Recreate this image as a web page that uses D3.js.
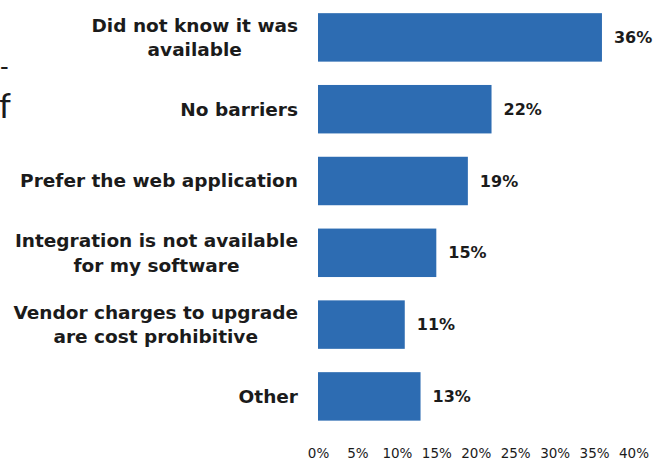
<!DOCTYPE html>
<html>
<head>
<meta charset="utf-8">
<script src="https://cdn.jsdelivr.net/npm/d3@7"></script>
<style>
  html, body { margin: 0; padding: 0; background: #fff; }
  svg { display: block; }
  text { font-family: "DejaVu Sans", sans-serif; fill: #1b1b1b; }
</style>
</head>
<body>
<svg id="chart" width="656" height="462"></svg>
<script>
// Survey responses: barriers to using the integration
const categories = [
  ["Did not know it was", "available"],
  ["No barriers"],
  ["Prefer the web application"],
  ["Integration is not available", "for my software"],
  ["Vendor charges to upgrade", "are cost prohibitive"],
  ["Other"]
];
const values = [36, 22, 19, 15, 11, 13];
const tickValues = [0, 5, 10, 15, 20, 25, 30, 35, 40];

const svg = d3.select("#chart");
const keys = categories.map((c, i) => "c" + i);

const x = d3.scaleLinear().domain([0, 40]).range([318, 633.5]);
const y = d3.scaleBand().domain(keys).range([1.5, 432.3])
  .paddingInner(0.325).paddingOuter(0.1625);

// fragments of neighbouring page text at the left edge
svg.append("text").attr("x", 0).attr("y", 75)
  .style("font-size", "24px").text("-");
svg.append("text").attr("x", -1).attr("y", 118)
  .style("font-family", "Lato, sans-serif")
  .style("font-size", "34px").text("f");

// bars
svg.append("g").selectAll("rect").data(values).join("rect")
  .attr("x", x(0))
  .attr("y", (d, i) => y(keys[i]))
  .attr("width", d => x(d) - x(0))
  .attr("height", y.bandwidth())
  .attr("fill", "#2d6cb2");

// value labels
svg.append("g").selectAll("text").data(values).join("text")
  .attr("x", d => x(d) + 12)
  .attr("y", (d, i) => y(keys[i]) + y.bandwidth() / 2)
  .attr("dy", "0.35em")
  .style("font-size", "16px").style("font-weight", "bold")
  .text(d => d + "%");

// category labels, right-aligned, centred on each bar
const lineGap = 24.5;
const lab = svg.append("g").selectAll("text").data(categories).join("text")
  .attr("text-anchor", "end")
  .style("font-size", "18.5px").style("font-weight", "bold");
lab.each(function(lines, i) {
  const cy = y(keys[i]) + y.bandwidth() / 2;
  const t = d3.select(this);
  lines.forEach((ln, j) => {
    t.append("tspan")
      .attr("x", 298)
      .attr("y", cy + (j - (lines.length - 1) / 2) * lineGap)
      .attr("dy", "0.35em")
      .text(ln);
  });
});
// centre the second line of two-line labels under the first
lab.each(function(lines) {
  if (lines.length < 2) return;
  const spans = d3.select(this).selectAll("tspan").nodes();
  const w0 = spans[0].getComputedTextLength();
  spans.forEach(s => {
    const w = s.getComputedTextLength();
    s.setAttribute("x", 298 - (w0 - w) / 2);
  });
});

// x axis
const axis = svg.append("g").attr("transform", "translate(0,447)")
  .call(d3.axisBottom(x).tickValues(tickValues).tickSize(0).tickFormat(d => d + "%"));
axis.select(".domain").remove();
axis.selectAll("text")
  .attr("y", 0).attr("dy", "0.8em")
  .style("font-size", "13.5px")
  .style("font-family", "'DejaVu Sans', sans-serif")
  .attr("fill", "#1b1b1b");
</script>
</body>
</html>
